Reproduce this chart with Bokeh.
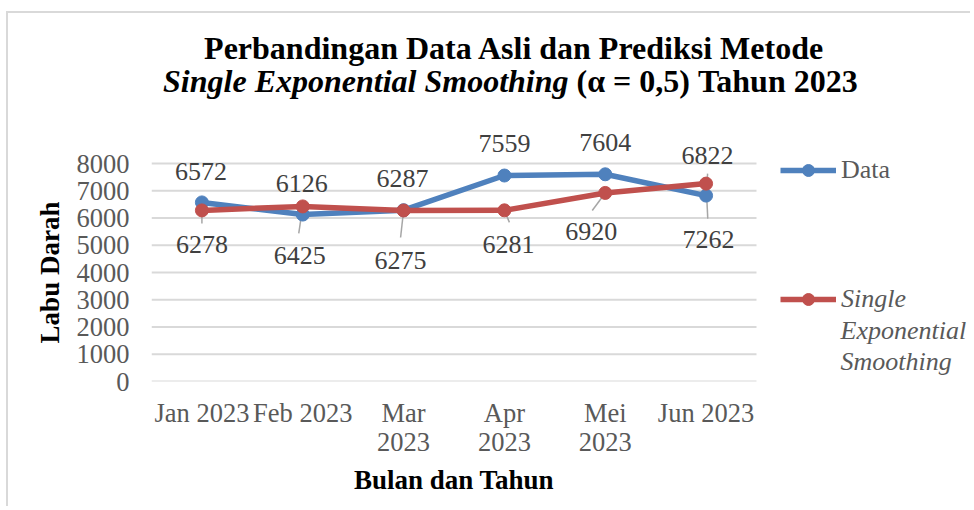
import numpy as np
from bokeh.plotting import figure
from bokeh.models import (Range1d, FixedTicker, Legend, LegendItem, LinearAxis,
                          Label, LabelSet, ColumnDataSource)
from bokeh.embed import file_html
from bokeh.resources import INLINE

# ---- data ----
months = ["Jan 2023", "Feb 2023", "Mar\n2023", "Apr\n2023", "Mei\n2023", "Jun 2023"]
data_values = [6572, 6126, 6287, 7559, 7604, 6822]
ses_values = [6278, 6425, 6275, 6281, 6920, 7262]
y_ticks = [0, 1000, 2000, 3000, 4000, 5000, 6000, 7000, 8000]

title_line1 = "Perbandingan Data Asli dan Prediksi Metode"
title_line2_italic = "Single Exponential Smoothing"
title_line2_rest = "\u00a0(\u03b1 = 0,5) Tahun 2023"
y_title = "Labu Darah"
x_title = "Bulan dan Tahun"
legend_data = "Data"
legend_ses = ["Single", "Exponential", "Smoothing"]

# ---- layout / style ----
SERIF = "Liberation Serif"
BLUE = "#4f81bd"
RED = "#c0504d"
GRID = "#d9d9d9"
W, H = 964, 495
LEFT, BOTTOM = 143, 127          # canvas px
PLOT_W, PLOT_H = 605, 218        # px spanned by the 6 categories / by 0..8000
CAT_PX = PLOT_W / len(months)
UNIT_PER_PX = 8000 / PLOT_H
FRAME_W, FRAME_H = W - LEFT, H - BOTTOM
SX0, SY0 = 151, 381              # page px of the x=0 / y=0 corner

def dx(sx):
    return (sx - SX0) / CAT_PX

def dy(sy):
    return (SY0 - sy) * UNIT_PER_PX

# label offsets in screen px (x right, y up)
data_lbl_dx = [-1, -1, -1, 0, 0, 1.5]
data_lbl_dy = [31, 31, 32, 32, 32, 40]
ses_lbl_dx = [0, -3, -3, 4, -14, 2.5]
ses_lbl_dy = [-34, -49, -50, -34, -39, -56]
# leader line end offsets (px) from point
data_lead_dx = [None, None, None, None, None, 1.5]
data_lead_dy = [None, None, None, None, None, 22]
ses_lead_dx = [0, -4, -3, 5, -13, 1.7]
ses_lead_dy = [-13, -27, -27, -12, -17.5, -35]

xpos = np.arange(len(months)) + 0.5

p = figure(x_range=Range1d(0, FRAME_W / CAT_PX), y_range=Range1d(0, FRAME_H * UNIT_PER_PX),
           width=W, height=H, output_backend="svg", toolbar_location=None,
           min_border_left=LEFT, min_border_right=0, min_border_top=0,
           min_border_bottom=BOTTOM)
p.styles = {"border-left": "2px solid #d9d9d9", "border-top": "2px solid #d9d9d9",
            "margin-top": "11px", "margin-left": "6px"}
p.outline_line_color = None
p.background_fill_color = "white"
p.xgrid.grid_line_color = None
p.ygrid.grid_line_color = None

# outer axes carrying the axis titles, centred on the category span / the 0..8000 span
y_title_axis = LinearAxis(ticker=FixedTicker(ticks=[y_ticks[-1] / 2]),
                          major_label_overrides={y_ticks[-1] / 2: y_title},
                          major_label_orientation="parallel", major_label_standoff=9)
x_title_axis = LinearAxis(ticker=FixedTicker(ticks=[len(months) / 2]),
                          major_label_overrides={len(months) / 2: x_title},
                          major_label_standoff=5)
p.add_layout(y_title_axis, "left")
p.add_layout(x_title_axis, "below")

p.yaxis[0].ticker = FixedTicker(ticks=y_ticks)
p.xaxis[0].ticker = FixedTicker(ticks=list(xpos))
p.xaxis[0].major_label_overrides = {float(x): m for x, m in zip(xpos, months)}
for ax in list(p.xaxis) + list(p.yaxis):
    ax.axis_line_color = None
    ax.major_tick_line_color = None
    ax.minor_tick_line_color = None
    ax.major_tick_out = 0
    ax.major_tick_in = 0
    ax.minor_tick_out = 0
    ax.major_label_text_font = SERIF
    ax.major_label_text_font_size = "26.5px"
    ax.major_label_text_color = "#595959"
    ax.major_label_text_line_height = 0.98
for ax in (y_title_axis, x_title_axis):
    ax.major_label_text_font_size = "27px"
    ax.major_label_text_font_style = "bold"
    ax.major_label_text_color = "black"
p.yaxis[0].major_label_standoff = 22
p.xaxis[0].major_label_standoff = 16

# horizontal gridlines over the category span
p.segment(x0=[0] * len(y_ticks), x1=[len(months)] * len(y_ticks), y0=y_ticks, y1=y_ticks,
          line_color=GRID, line_width=2)

# leader lines
lx0, lx1, ly0, ly1 = [], [], [], []
for i, v in enumerate(data_values):
    if data_lead_dx[i] is not None:
        lx0.append(xpos[i]); lx1.append(xpos[i] + data_lead_dx[i] / CAT_PX)
        ly0.append(v); ly1.append(v + data_lead_dy[i] * UNIT_PER_PX)
for i, v in enumerate(ses_values):
    lx0.append(xpos[i]); lx1.append(xpos[i] + ses_lead_dx[i] / CAT_PX)
    ly0.append(v); ly1.append(v + ses_lead_dy[i] * UNIT_PER_PX)
p.segment(x0=lx0, y0=ly0, x1=lx1, y1=ly1, line_color="#a6a6a6", line_width=1.5)

l1 = p.line(xpos, data_values, line_color=BLUE, line_width=5.5, line_join="round")
s1 = p.scatter(xpos, data_values, size=13, fill_color=BLUE, line_color=BLUE)
l2 = p.line(xpos, ses_values, line_color=RED, line_width=5.5, line_join="round")
s2 = p.scatter(xpos, ses_values, size=13, fill_color=RED, line_color=RED)

# data labels
src_d = ColumnDataSource(dict(x=xpos, y=data_values, t=[str(v) for v in data_values],
                              dx=data_lbl_dx, dy=data_lbl_dy))
src_s = ColumnDataSource(dict(x=xpos, y=ses_values, t=[str(v) for v in ses_values],
                              dx=ses_lbl_dx, dy=ses_lbl_dy))
for src in (src_d, src_s):
    p.add_layout(LabelSet(x="x", y="y", text="t", source=src, x_offset="dx", y_offset="dy",
                          text_align="center", text_baseline="middle", text_font=SERIF,
                          text_font_size="26px", text_color="#404040"))

# legends
common = dict(padding=0, margin=0, spacing=0, glyph_width=56, glyph_height=30,
              label_height=30, label_standoff=5, label_text_font=SERIF,
              label_text_font_size="26px", label_text_color="#595959",
              background_fill_alpha=0, border_line_alpha=0)
leg1 = Legend(items=[LegendItem(label=legend_data, renderers=[l1, s1])],
              location=(629, 196), **common)
leg2 = Legend(items=[LegendItem(label=legend_ses[0], renderers=[l2, s2])],
              location=(629, 67), label_text_font_style="italic", **common)
p.add_layout(leg1)
p.add_layout(leg2)
for k, txt in enumerate(legend_ses[1:]):
    p.add_layout(Label(x=dx(840), y=dy(330 + 31 * k), text=txt,
                       text_align="left", text_baseline="middle", text_font=SERIF,
                       text_font_size="26px", text_font_style="italic",
                       text_color="#595959"))

# title
p.add_layout(Label(x=dx(514), y=dy(47), text=title_line1,
                   text_align="center", text_baseline="alphabetic", text_font=SERIF,
                   text_font_size="32px", text_font_style="bold", text_color="black"))
p.add_layout(Label(x=dx(568), y=dy(80), text=title_line2_italic,
                   text_align="right", text_baseline="alphabetic", text_font=SERIF,
                   text_font_size="32px", text_font_style="bold italic", text_color="black"))
p.add_layout(Label(x=dx(568), y=dy(80), text=title_line2_rest,
                   text_align="left", text_baseline="alphabetic", text_font=SERIF,
                   text_font_size="32px", text_font_style="bold", text_color="black"))

open("out.html", "w").write(file_html(p, INLINE))
